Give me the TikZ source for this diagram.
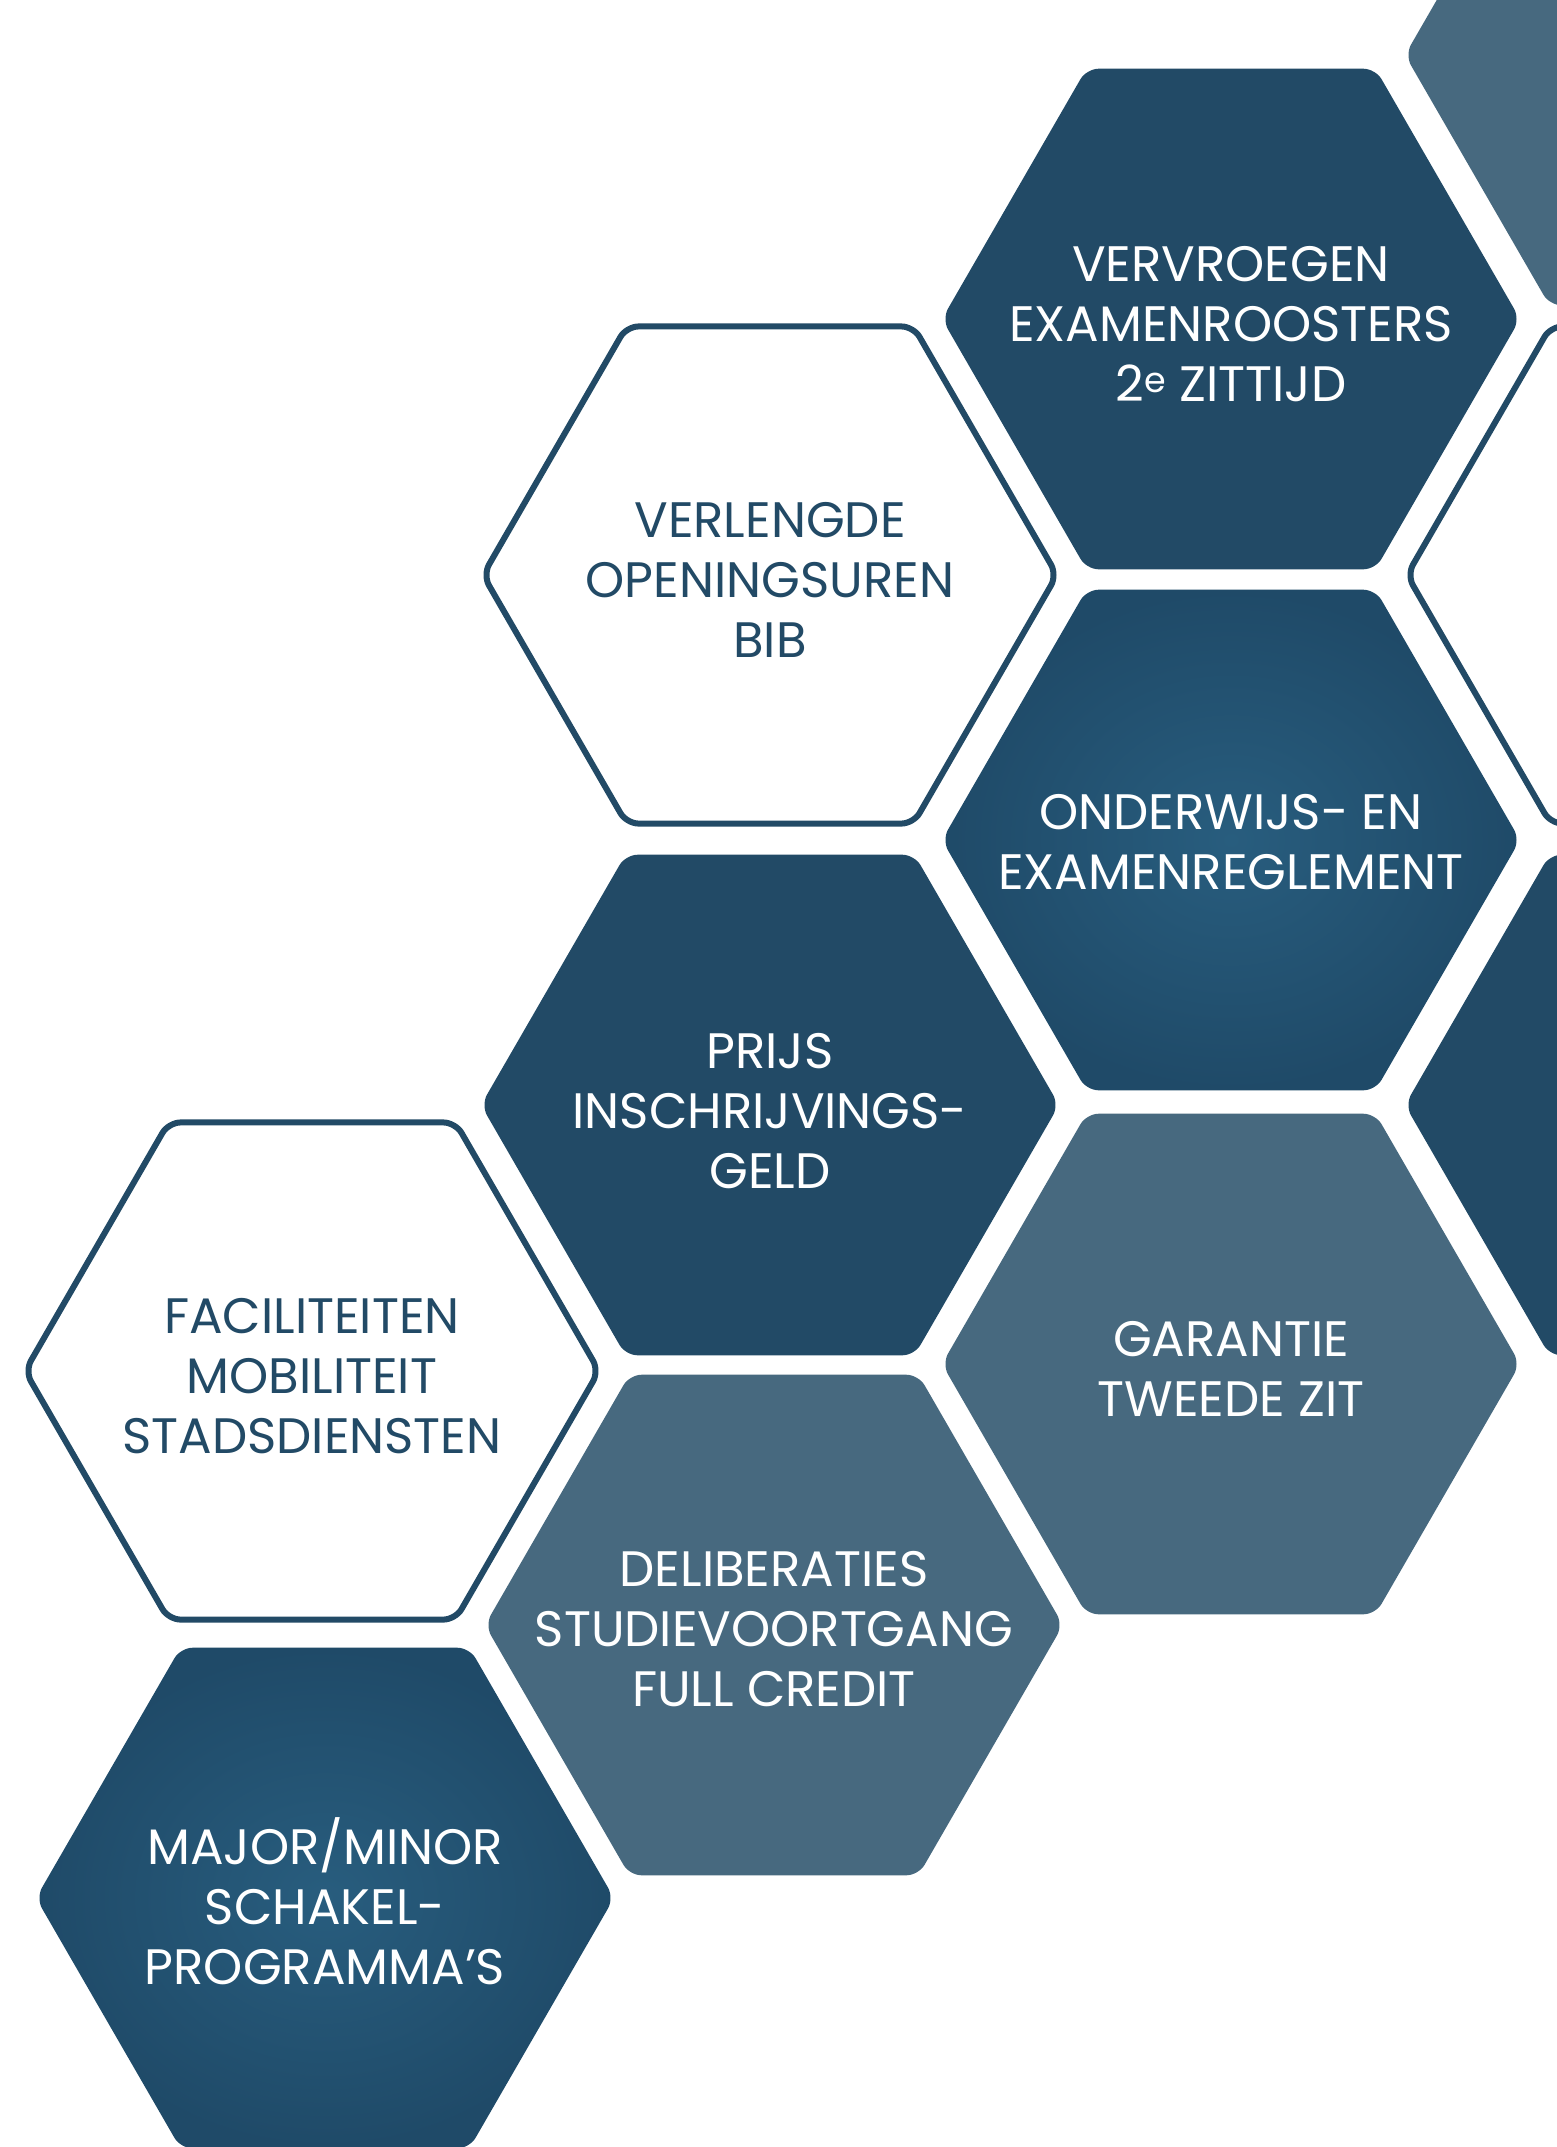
\documentclass[tikz,border=0pt]{standalone}
\usepackage{fontspec}
\setmainfont{Poppins}
\usetikzlibrary{shapes.geometric}
\definecolor{hexdark}{RGB}{34,74,102}
\definecolor{hexslate}{RGB}{71,105,127}
\definecolor{hextexin}{RGB}{40,93,126}
\definecolor{hextexout}{RGB}{31,74,104}
\tikzset{
  hexbase/.style={regular polygon, regular polygon sides=6, minimum size=578bp,
    inner sep=0pt, outer sep=0pt, rounded corners=12bp},
  hexdarkst/.style={hexbase, fill=hexdark},
  hexslatest/.style={hexbase, fill=hexslate},
  hextexst/.style={hexbase, inner color=hextexin, outer color=hextexout},
  hexlinest/.style={hexbase, draw=hexdark, line width=6bp, fill=white, minimum size=574bp},
  hextext/.style={align=center, inner sep=0pt, font=\fontsize{50}{60}\selectfont, text=white},
  hextextdark/.style={hextext, text=hexdark},
}
\begin{document}
\begin{tikzpicture}[x=1bp,y=-1bp]
\useasboundingbox (0,0) rectangle (1557,2147);
\fill[white] (0,0) rectangle (1557,2147);
\clip (0,0) rectangle (1557,2147);
% right partial column
\node[hexslatest] (r1) at (1694,55) {};
\node[hexlinest]  (r2) at (1694,575) {};
\node[hexdarkst]  (r3) at (1694,1105) {};
% main hexagons
\node[hexdarkst]  (vervroegen) at (1231,319) {};
\node[hexlinest]  (verlengde)  at (770,575)  {};
\node[hextexst]   (onderwijs)  at (1231,840) {};
\node[hexdarkst]  (prijs)      at (770,1105) {};
\node[hexslatest] (garantie)   at (1231,1364) {};
\node[hexlinest]  (faciliteiten) at (312,1371) {};
\node[hexslatest] (deliberaties) at (774,1625) {};
\node[hextexst]   (major)      at (325,1898) {};
% texts
\node[hextext]     (vervroegen-t) at ([yshift=-5bp]vervroegen.center) {VERVROEGEN\\EXAMENROOSTERS\\2\textsuperscript{e} ZITTIJD};
\node[hextextdark] (verlengde-t)  at ([yshift=-5bp]verlengde.center) {VERLENGDE\\OPENINGSUREN\\BIB};
\node[hextext]     (onderwijs-t)  at ([yshift=-2bp]onderwijs.center) {ONDERWIJS- EN\\EXAMENREGLEMENT};
\node[hextext]     (prijs-t)      at ([yshift=-6bp]prijs.center) {PRIJS\\INSCHRIJVINGS-\\GELD};
\node[hextext]     (garantie-t)   at ([yshift=-5bp]garantie.center) {GARANTIE\\TWEEDE ZIT};
\node[hextextdark] (faciliteiten-t) at ([yshift=-5bp]faciliteiten.center) {FACILITEITEN\\MOBILITEIT\\STADSDIENSTEN};
\node[hextext]     (deliberaties-t) at ([yshift=-4bp]deliberaties.center) {DELIBERATIES\\STUDIEVOORTGANG\\FULL CREDIT};
\node[hextext]     (major-t)      at ([yshift=-3bp]major.center) {MAJOR/MINOR\\SCHAKEL-\\PROGRAMMA’S};
\end{tikzpicture}
\end{document}
